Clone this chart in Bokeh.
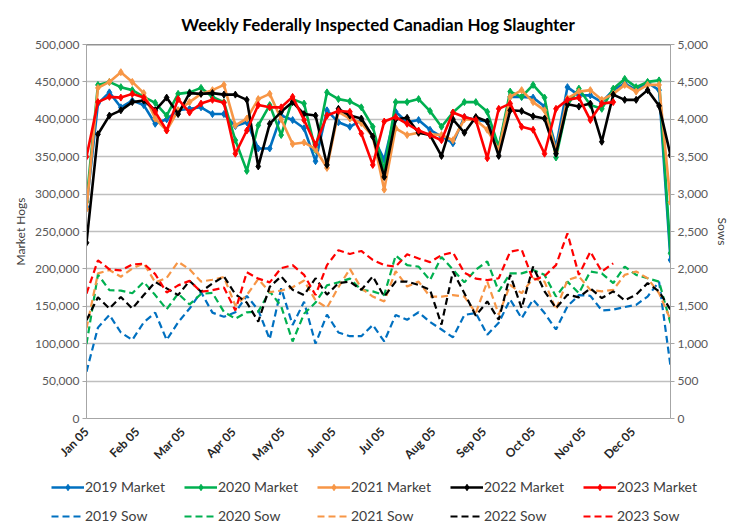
import pandas as pd
from math import pi
from bokeh.plotting import figure
from bokeh.models import (Range1d, LinearAxis, FixedTicker, NumeralTickFormatter,
                          Legend, LegendItem, Span)
from bokeh.embed import file_html
from bokeh.resources import INLINE

# ---------------- data ----------------
first_week = "2023-01-05"
n_weeks = 52
month_labels = ["Jan 05", "Feb 05", "Mar 05", "Apr 05", "May 05", "Jun 05",
                "Jul 05", "Aug 05", "Sep 05", "Oct 05", "Nov 05", "Dec 05"]

market_2019 = [283000, 421000, 436000, 416000, 425000, 419000, 394000, 400000, 412000, 414000,
               416000, 407000, 407000, 391000, 396000, 361000, 361000, 405000, 399000, 388000,
               344000, 412000, 396000, 390000, 399000, 377000, 346000, 410000, 396000, 399000,
               386000, 377000, 368000, 403000, 399000, 397000, 363000, 430000, 430000, 429000,
               417000, 363000, 443000, 432000, 432000, 423000, 439000, 448000, 439000, 449000,
               439000, 212000]
market_2020 = [290000, 446000, 450000, 443000, 439000, 430000, 422000, 405000, 434000, 436000,
               442000, 430000, 423000, 372000, 331000, 392000, 419000, 379000, 427000, 421000,
               359000, 436000, 427000, 424000, 416000, 390000, 332000, 423000, 423000, 427000,
               411000, 390000, 409000, 423000, 423000, 410000, 363000, 437000, 430000, 446000,
               429000, 349000, 419000, 441000, 419000, 414000, 441000, 454000, 443000, 450000,
               452000, 221000]
market_2021 = [280000, 442000, 450000, 463000, 450000, 435000, 401000, 385000, 412000, 423000,
               434000, 439000, 446000, 392000, 401000, 427000, 434000, 400000, 367000, 369000,
               360000, 335000, 410000, 401000, 395000, 377000, 306000, 388000, 379000, 382000,
               380000, 379000, 372000, 400000, 399000, 386000, 359000, 430000, 439000, 423000,
               412000, 357000, 428000, 437000, 439000, 426000, 434000, 446000, 437000, 446000,
               446000, 289000]
market_2022 = [235000, 380000, 405000, 412000, 423000, 425000, 412000, 429000, 407000, 435000,
               434000, 435000, 433000, 433000, 426000, 337000, 394000, 410000, 423000, 407000,
               405000, 339000, 414000, 405000, 401000, 377000, 323000, 400000, 402000, 382000,
               379000, 351000, 400000, 382000, 403000, 397000, 351000, 412000, 411000, 404000,
               401000, 354000, 420000, 417000, 421000, 370000, 433000, 426000, 426000, 439000,
               418000, 352000]
market_2023 = [350000, 423000, 430000, 429000, 434000, 429000, 410000, 385000, 427000, 409000,
               421000, 426000, 422000, 354000, 385000, 419000, 416000, 416000, 430000, 399000,
               366000, 405000, 411000, 410000, 381000, 339000, 397000, 403000, 394000, 385000,
               379000, 372000, 409000, 403000, 399000, 348000, 414000, 421000, 390000, 386000,
               354000, 414000, 426000, 429000, 399000, 421000, 423000]

sow_2019 = [625, 1215, 1385, 1150, 1050, 1285, 1415, 1050, 1285, 1470,
            1690, 1415, 1360, 1420, 1640, 1450, 1060, 1740, 1250, 1560,
            1000, 1390, 1150, 1100, 1100, 1250, 1030, 1385, 1320, 1420,
            1290, 1190, 1085, 1385, 1410, 1120, 1280, 1590, 1340, 1590,
            1410, 1190, 1500, 1650, 1640, 1445, 1455, 1490, 1520, 1630,
            1830, 700]
sow_2020 = [995, 1925, 1715, 1710, 1675, 1825, 1650, 1460, 1670, 1525,
            1665, 1680, 1425, 1335, 1420, 1430, 1700, 1500, 1030, 1400,
            1550, 1780, 1820, 1870, 1720, 1700, 1650, 2180, 2050, 2030,
            1850, 2160, 1990, 1820, 1990, 2100, 1700, 1940, 1940, 1985,
            1920, 1630, 1830, 1675, 1965, 1940, 1810, 2030, 1920, 1875,
            1830, 1275]
sow_2021 = [1205, 1940, 1985, 1895, 2005, 2075, 1820, 1880, 2095, 1995,
            1830, 1855, 1890, 1510, 1650, 1865, 1690, 1710, 1755, 1845,
            1580, 1480, 1755, 2000, 1740, 1630, 1565, 1970, 1765, 1830,
            1630, 1630, 1650, 1630, 1410, 1830, 1390, 1785, 1675, 1875,
            1830, 1455, 1850, 1900, 1720, 1700, 1720, 1920, 1965, 1875,
            1675, 1320]
sow_2022 = [1315, 1620, 1470, 1625, 1470, 1650, 1825, 1740, 1650, 1840,
            1695, 1805, 1900, 1660, 1550, 1295, 1760, 1900, 1720, 1650,
            1875, 1655, 1810, 1830, 1720, 1900, 1630, 1830, 1830, 1785,
            1720, 1255, 1965, 1675, 1375, 1565, 1320, 1920, 1475, 2030,
            1700, 1475, 1655, 1620, 1740, 1610, 1700, 1580, 1655, 1810,
            1700, 1455]
sow_2023 = [1670, 2115, 1995, 1980, 2060, 2070, 1930, 1685, 1780, 1840,
            1695, 1715, 1750, 1445, 1955, 1870, 1820, 2010, 2050, 1920,
            1650, 2050, 2250, 2200, 2240, 2120, 2050, 2030, 2195, 2140,
            2090, 2185, 2220, 1950, 1870, 1850, 1875, 2230, 2260, 1850,
            1905, 2050, 2475, 1920, 2230, 1965, 2075]

years = ["2019", "2020", "2021", "2022", "2023"]
colors = ["#0070C0", "#00B050", "#F79646", "#000000", "#FF0000"]
markets = [market_2019, market_2020, market_2021, market_2022, market_2023]
sows = [sow_2019, sow_2020, sow_2021, sow_2022, sow_2023]

# ---------------- x positions (days since first week) ----------------
t0 = pd.Timestamp(first_week)
dates = pd.date_range(first_week, periods=n_weeks, freq="7D")
days = [(d - t0).days for d in dates]
tick_days = [(pd.Timestamp(f"2023-{m:02d}-05") - t0).days for m in range(1, 13)]

FONT = "Lato"
GRID = "#BFBFBF"
AXIS = "#A6A6A6"
TXT = "#404040"
W = 733
MARKET_W, SOW_W, SOW_DASH = 2.6, 2.2, "7 4"

p = figure(width=W, height=471, output_backend="svg", toolbar_location=None,
           x_range=Range1d(days[0], days[-1]), y_range=Range1d(0, 500000),
           min_border_left=86, min_border_right=62, min_border_top=44, min_border_bottom=52,
           title="Weekly Federally Inspected Canadian Hog Slaughter")
p.title.align = "center"
p.title.text_font = FONT
p.title.text_font_size = "17px"
p.title.text_font_style = "bold"
p.title.text_color = "#000000"
p.title.standoff = 19
p.outline_line_color = None
p.background_fill_color = "white"
p.border_fill_color = "white"

p.extra_y_ranges = {"sows": Range1d(0, 5000)}

# axes
p.xaxis.ticker = FixedTicker(ticks=tick_days)
p.xaxis.major_label_overrides = {d: lab for d, lab in zip(tick_days, month_labels)}
p.xaxis.major_label_orientation = pi / 4
p.xaxis.major_label_text_font = FONT
p.xaxis.major_label_text_font_size = "12px"
p.xaxis.major_label_text_font_style = "bold"
p.xaxis.major_label_text_color = "#262626"
p.xaxis.axis_line_color = AXIS
p.xaxis.major_tick_line_color = None
p.xaxis.minor_tick_line_color = None
p.xgrid.grid_line_color = None

p.yaxis.ticker = FixedTicker(ticks=list(range(0, 500001, 50000)))
p.yaxis.formatter = NumeralTickFormatter(format="0,0")
p.yaxis.axis_label = "Market Hogs"
p.ygrid.ticker = FixedTicker(ticks=list(range(0, 500001, 50000)))
p.ygrid.grid_line_color = GRID
p.ygrid.grid_line_width = 1.3

right = LinearAxis(y_range_name="sows", axis_label="Sows",
                   ticker=FixedTicker(ticks=list(range(0, 5001, 500))),
                   formatter=NumeralTickFormatter(format="0,0"))
p.add_layout(right, "right")

for ax in [p.yaxis[0], right]:
    ax.major_label_text_font = FONT
    ax.major_label_text_font_size = "12px"
    ax.major_label_text_color = "#595959"
    ax.major_label_standoff = 3
    ax.axis_label_standoff = 4
    ax.axis_label_text_font = FONT
    ax.axis_label_text_font_size = "12px"
    ax.axis_label_text_font_style = "normal"
    ax.axis_label_text_color = TXT
    ax.axis_line_color = AXIS
    ax.major_tick_line_color = AXIS
    ax.major_tick_out = 4
    ax.major_tick_in = 0
    ax.minor_tick_line_color = None

p.add_layout(Span(location=p.y_range.end, dimension="width", line_color="#262626", line_width=1.3))

# series
for col, sv in zip(colors, sows):
    p.line(days[:len(sv)], sv, y_range_name="sows", line_color=col, line_width=SOW_W,
           line_dash=SOW_DASH)
for col, mv in zip(colors, markets):
    p.line(days[:len(mv)], mv, line_color=col, line_width=MARKET_W)
    p.scatter(days[:len(mv)], mv, marker="diamond", size=7, fill_color=col, line_color=col)

# ---------------- legend strip (separate root below the chart) ----------------
lf = figure(width=W, height=53, output_backend="svg", toolbar_location=None,
            x_axis_type=None, y_axis_type=None, x_range=Range1d(0, 1), y_range=Range1d(0, 1),
            min_border_left=0, min_border_right=0, min_border_top=0, min_border_bottom=0)
lf.outline_line_color = None
lf.grid.grid_line_color = None
lf.background_fill_color = "white"
lf.border_fill_color = "white"

nan = float("nan")
market_items, sow_items = [], []
for yr, col in zip(years, colors):
    r1 = lf.line([nan, nan], [nan, nan], line_color=col, line_width=MARKET_W)
    r2 = lf.scatter([nan], [nan], marker="diamond", size=7, fill_color=col, line_color=col)
    market_items.append(LegendItem(label=f"{yr} Market", renderers=[r1, r2]))
    r3 = lf.line([nan, nan], [nan, nan], line_color=col, line_width=SOW_W, line_dash=SOW_DASH)
    sow_items.append(LegendItem(label=f"{yr} Sow", renderers=[r3]))

for items, loc in [(market_items, (51, 29)), (sow_items, (51, 0))]:
    lg = Legend(items=items, orientation="horizontal", location=loc,
                border_line_color=None, background_fill_alpha=0,
                label_text_font=FONT, label_text_font_size="14px", label_text_color=TXT,
                glyph_width=33, glyph_height=16, label_standoff=1, spacing=3,
                label_width=96, label_height=16, padding=0, margin=0)
    lf.add_layout(lg, "center")

open("out.html", "w").write(file_html([p, lf], INLINE))
